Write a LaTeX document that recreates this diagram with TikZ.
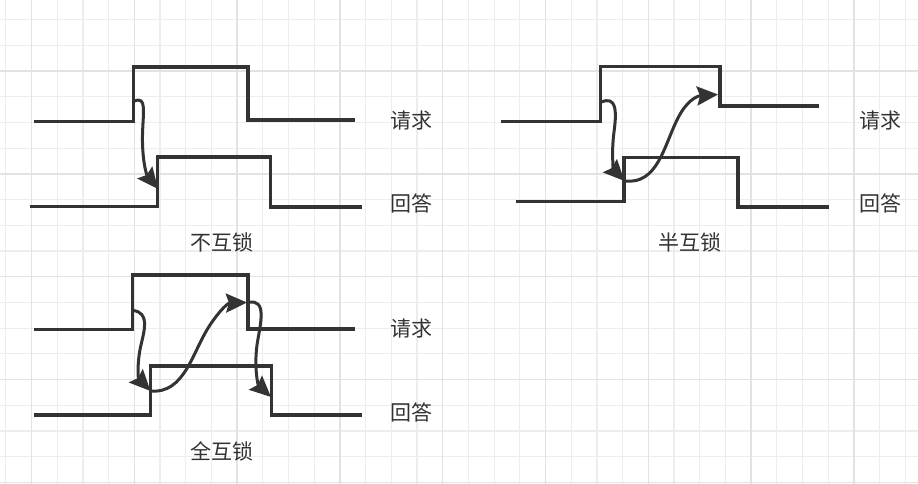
\documentclass[tikz,border=0pt]{standalone}
\usepackage{fontspec}
\newfontfamily\cjk{Noto Sans CJK SC}
\usetikzlibrary{arrows.meta}
\definecolor{ink}{HTML}{333333}
\definecolor{gridminor}{HTML}{EDEDED}
\definecolor{gridmajor}{HTML}{E2E2E2}
\tikzset{
  wave/.style={draw=ink, line width=3.4pt, line join=miter},
  flow/.style={draw=ink, line width=3pt, -{Stealth[length=21pt,width=19pt,inset=3pt]}},
  lbl/.style={text=ink, font=\cjk\fontsize{21}{25}\selectfont, inner sep=0pt},
}
\begin{document}
\begin{tikzpicture}[x=1pt,y=-1pt]
\useasboundingbox (0,0) rectangle (918,484);
\fill[white] (0,0) rectangle (918,484);
% grid
\foreach \i in {0,...,36} {
  \draw[gridminor, line width=1.2pt] ({5.8+25.7*\i},0) -- ({5.8+25.7*\i},484);
}
\foreach \i in {0,...,19} {
  \draw[gridminor, line width=1.2pt] (0,{-6+25.7*\i}) -- (918,{-6+25.7*\i});
}
\foreach \i in {0,...,8} {
  \draw[gridmajor, line width=1.4pt] ({31.5+102.8*\i},0) -- ({31.5+102.8*\i},484);
}
\foreach \i in {0,...,5} {
  \draw[gridmajor, line width=1.4pt] (0,{-31.7+102.8*\i}) -- (918,{-31.7+102.8*\i});
}

% ---------- diagram 1: no interlock ----------
\draw[wave] (34,121.5) -- (133.5,121.5) -- (133.5,67) -- (248,67) -- (248,120) -- (355,120);
\draw[wave] (30,206.5) -- (157.5,206.5) -- (157.5,157) -- (270.5,157) -- (270.5,207) -- (362,207);
\coordinate (a1s) at (134.5,101);
\coordinate (a1e) at (158,189);
\draw[flow] (a1s) .. controls (147,96) and (143,112) .. (142.5,135) .. controls (142,158) and (146,174) .. (a1e);
\node[lbl] (req1) at (411.5,120.5) {请求};
\node[lbl] (ans1) at (411.5,203.5) {回答};
\node[lbl] (cap1) at (222,242) {不互锁};

% ---------- diagram 2: half interlock ----------
\draw[wave] (501,121.5) -- (600.5,121.5) -- (600.5,66.5) -- (720,66.5) -- (720,106) -- (819,106);
\draw[wave] (516,201.5) -- (624,201.5) -- (624,157.5) -- (738,157.5) -- (738,207) -- (829,207);
\coordinate (b1s) at (601.5,102);
\coordinate (b1e) at (624.5,181);
\coordinate (b2e) at (718,94.5);
\draw[flow] (b1s) .. controls (616,96) and (617,110) .. (614,132) .. controls (611,155) and (614,170) .. (b1e);
\draw[flow] (b1e) .. controls (658,185) and (664,145) .. (678,118) .. controls (686,102) and (696,96) .. (b2e);
\node[lbl] (req2) at (880,120.5) {请求};
\node[lbl] (ans2) at (880,203.5) {回答};
\node[lbl] (cap2) at (690,242.5) {半互锁};

% ---------- diagram 3: full interlock ----------
\draw[wave] (34,329.5) -- (132.5,329.5) -- (132.5,275) -- (248,275) -- (248,329) -- (355,329);
\draw[wave] (34,415) -- (150.5,415) -- (150.5,366) -- (271.5,366) -- (271.5,415) -- (362,415);
\coordinate (c1s) at (133.5,310.5);
\coordinate (c1e) at (150.5,391);
\coordinate (c2e) at (247,302.5);
\coordinate (c3s) at (248,302.5);
\coordinate (c3e) at (271,397);
\draw[flow] (c1s) .. controls (149,313) and (145,328) .. (141,345) .. controls (137,362) and (138,378) .. (c1e);
\draw[flow] (c1e) .. controls (185,394) and (192,352) .. (210,325) .. controls (220,310) and (228,303) .. (c2e);
\draw[flow] (c3s) .. controls (268,298) and (260,325) .. (257,345) .. controls (254,368) and (258,385) .. (c3e);
\node[lbl] (req3) at (411.5,329) {请求};
\node[lbl] (ans3) at (411.5,412) {回答};
\node[lbl] (cap3) at (222,451) {全互锁};
\end{tikzpicture}
\end{document}
